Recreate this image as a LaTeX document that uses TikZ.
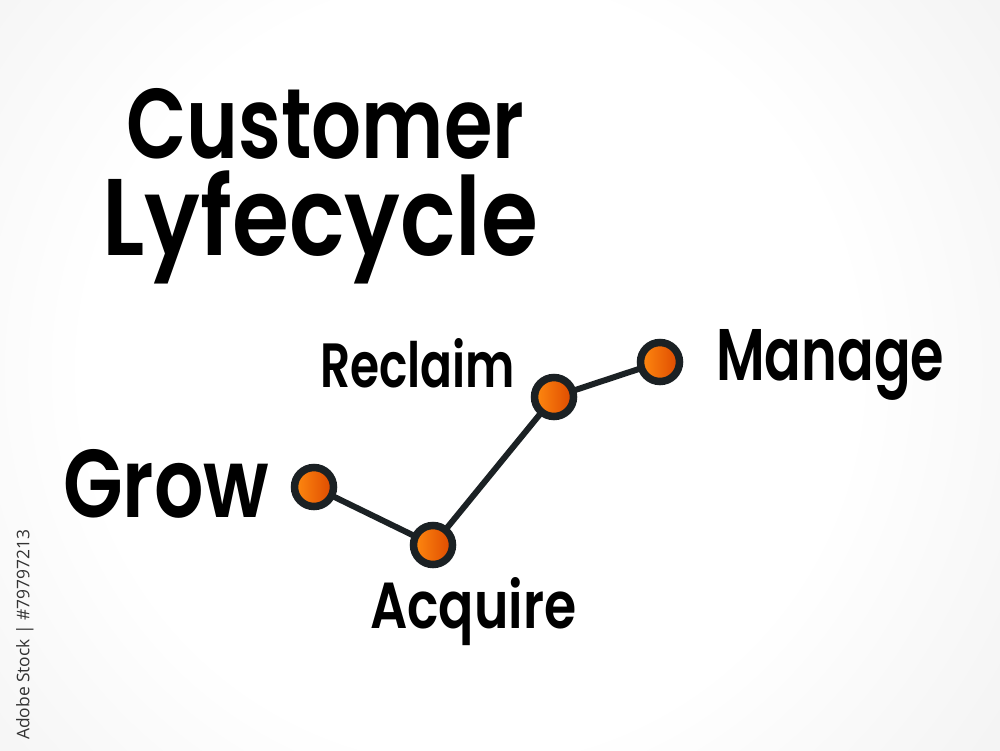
\documentclass[tikz,border=0pt]{standalone}
\usepackage{fontspec}
\usepackage{graphicx}
\newfontfamily\handfont{Poppins}[BoldFont={* SemiBold}]
\newfontfamily\wmfont{Open Sans}
\definecolor{ink}{HTML}{1B2124}
\definecolor{orgL}{HTML}{FF8A10}
\definecolor{orgR}{HTML}{DD4800}
\definecolor{bgout}{HTML}{DEDEDE}
\pgfdeclareradialshading{bgshade}{\pgfpoint{0bp}{0bp}}{color(0bp)=(white); color(16bp)=(white); color(48bp)=(bgout); color(50bp)=(bgout)}
\tikzset{
  dot/.style={circle, draw=ink, line width=7.5pt, minimum size=39pt, inner sep=0pt,
    left color=orgL, right color=orgR},
  link/.style={draw=ink, line width=6pt},
  hand/.style={inner sep=0pt, anchor=base west, text=black},
}
\newcommand{\hw}[3]{\resizebox{#1}{#2}{\handfont\bfseries #3}}
\begin{document}
\begin{tikzpicture}[x=1pt,y=-1pt]
\useasboundingbox (0,0) rectangle (1000,750);
\shade[shading=bgshade] (-130,-230) rectangle (1070,970);
% title
\node[hand] (t1) at (126,158) {\hw{398pt}{70pt}{Customer}};
\node[hand] (t2) at (102,255) {\hw{436pt}{85pt}{Lyfecycle}};
% connectors and dots
\coordinate (pg) at (314,487);
\coordinate (pa) at (433,545);
\coordinate (pr) at (554,397);
\coordinate (pm) at (660,362);
\draw[link] (pg) -- (pa) -- (pr) -- (pm);
\node[dot] (grow) at (pg) {};
\node[dot] (acq) at (pa) {};
\node[dot] (rec) at (pr) {};
\node[dot] (man) at (pm) {};
% labels
\node[hand] (lgrow) at (63,517) {\hw{206pt}{68pt}{Grow}};
\node[hand] (lacq) at (370,628) {\hw{206pt}{51pt}{Acquire}};
\node[hand] (lrec) at (320,387) {\hw{195pt}{49pt}{Reclaim}};
\node[hand] (lman) at (716,380) {\hw{228pt}{51pt}{Manage}};
% vertical watermark
\node[rotate=90, anchor=west, inner sep=0pt, text=black!80] (wm) at (25,740)
  {\resizebox{210pt}{!}{\wmfont Adobe Stock | \#79797213}};
\end{tikzpicture}
\end{document}
